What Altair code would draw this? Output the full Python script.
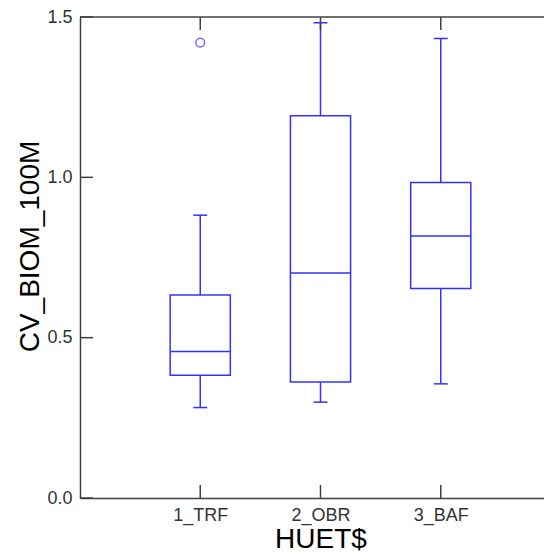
import altair as alt
import pandas as pd

# ---- data ----
categories = ["1_TRF", "2_OBR", "3_BAF"]
whisker_low = [0.282, 0.299, 0.356]
q1 = [0.383, 0.362, 0.653]
median = [0.457, 0.702, 0.817]
q3 = [0.633, 1.192, 0.984]
whisker_high = [0.882, 1.482, 1.433]
outlier_cat = ["1_TRF"]
outlier_val = [1.420]
y_ticks = [0.0, 0.5, 1.0, 1.5]

FULL = 481          # full plot size in pixels (right part is cut off by the page)
W, H = 464, 481     # visible plot width, plot height
BLUE = "#3232ff"
AXIS = "#404040"
FONT = "Liberation Sans"
TICK = 13

pos = {c: i + 1 for i, c in enumerate(categories)}
box = pd.DataFrame({"cat": categories, "pos": [pos[c] for c in categories],
                    "lo": whisker_low, "q1": q1, "med": median, "q3": q3, "hi": whisker_high})
outl = pd.DataFrame({"pos": [pos[c] for c in outlier_cat], "val": outlier_val})
xt = pd.DataFrame({"pos": [pos[c] for c in categories]})
yt = pd.DataFrame({"v": y_ticks})
top = pd.DataFrame({"v": [max(y_ticks)]})

label_expr = "[" + ",".join(f"'{c}'" for c in categories) + "][datum.value-1]"
xaxis = alt.Axis(values=[1, 2, 3], labelExpr=label_expr, tickSize=0, domain=True, grid=False,
                 labelFontSize=18, labelPadding=8, title="HUET$", titleFontSize=28,
                 titleX=FULL / 2, titleY=49, titleBaseline="alphabetic", titleAlign="center")
yaxis = alt.Axis(values=y_ticks, format=".1f", tickSize=0, domain=True, grid=False,
                 labelFontSize=18, labelPadding=8, title="CV_BIOM_100M", titleFontSize=28,
                 titleX=-50, titleY=229, titleAngle=270, titleBaseline="middle", titleAlign="center")
xs = alt.Scale(domain=[0, 4 * W / FULL], nice=False, zero=False)
ys = alt.Scale(domain=[0, 1.5], nice=False, zero=False)

base = alt.Chart(box).transform_calculate(
    bl="datum.pos - 0.25", br="datum.pos + 0.25",
    cl="datum.pos - 0.058", cr="datum.pos + 0.058")

X = alt.X("pos:Q", scale=xs, axis=xaxis)

lower = base.mark_rule(color=BLUE, strokeWidth=1.5).encode(
    x=X, y=alt.Y("lo:Q", scale=ys, axis=yaxis), y2="q1:Q")
upper = base.mark_rule(color=BLUE, strokeWidth=1.5).encode(
    x=X, y=alt.Y("q3:Q", scale=ys, axis=yaxis), y2="hi:Q")
cap_lo = base.mark_rule(color=BLUE, strokeWidth=1.5).encode(
    x=alt.X("cl:Q", scale=xs, axis=xaxis), x2="cr:Q", y=alt.Y("lo:Q", scale=ys, axis=yaxis))
cap_hi = base.mark_rule(color=BLUE, strokeWidth=1.5).encode(
    x=alt.X("cl:Q", scale=xs, axis=xaxis), x2="cr:Q", y=alt.Y("hi:Q", scale=ys, axis=yaxis))
rect = base.mark_rect(fill="white", stroke=BLUE, strokeWidth=1.5).encode(
    x=alt.X("bl:Q", scale=xs, axis=xaxis), x2="br:Q",
    y=alt.Y("q1:Q", scale=ys, axis=yaxis), y2="q3:Q")
med = base.mark_rule(color=BLUE, strokeWidth=1.5).encode(
    x=alt.X("bl:Q", scale=xs, axis=xaxis), x2="br:Q", y=alt.Y("med:Q", scale=ys, axis=yaxis))
pts = alt.Chart(outl).mark_point(shape="circle", filled=False, size=75, color=BLUE,
                                 strokeWidth=1.5).encode(
    x=alt.X("pos:Q", scale=xs, axis=xaxis), y=alt.Y("val:Q", scale=ys, axis=yaxis))

bt = alt.Chart(xt).mark_rule(color=AXIS, strokeWidth=1.5).encode(
    x=alt.X("pos:Q", scale=xs, axis=xaxis), y=alt.value(H - TICK), y2=alt.value(H))
tt = alt.Chart(xt).mark_rule(color=AXIS, strokeWidth=1.5).encode(
    x=alt.X("pos:Q", scale=xs, axis=xaxis), y=alt.value(0), y2=alt.value(TICK))
lt = alt.Chart(yt).mark_rule(color=AXIS, strokeWidth=1.5).encode(
    y=alt.Y("v:Q", scale=ys, axis=yaxis), x=alt.value(0), x2=alt.value(TICK))
border = alt.Chart(top).mark_rule(color=AXIS, strokeWidth=1.5).encode(
    y=alt.Y("v:Q", scale=ys, axis=yaxis), x=alt.value(0), x2=alt.value(W))

chart = alt.layer(lower, upper, cap_lo, cap_hi, rect, med, pts, bt, tt, lt, border).properties(
    width=W, height=H,
    autosize=alt.AutoSizeParams(type="none"),
    padding={"left": 72, "top": 9, "right": 0, "bottom": 54},
).configure_view(stroke=None).configure_axis(
    labelFont=FONT, titleFont=FONT, labelColor="#333333", titleColor="#000000",
    titleFontWeight="normal", domainColor=AXIS, domainWidth=1.5)

chart.save("out.html", embed_options={"renderer": "svg", "actions": False})
